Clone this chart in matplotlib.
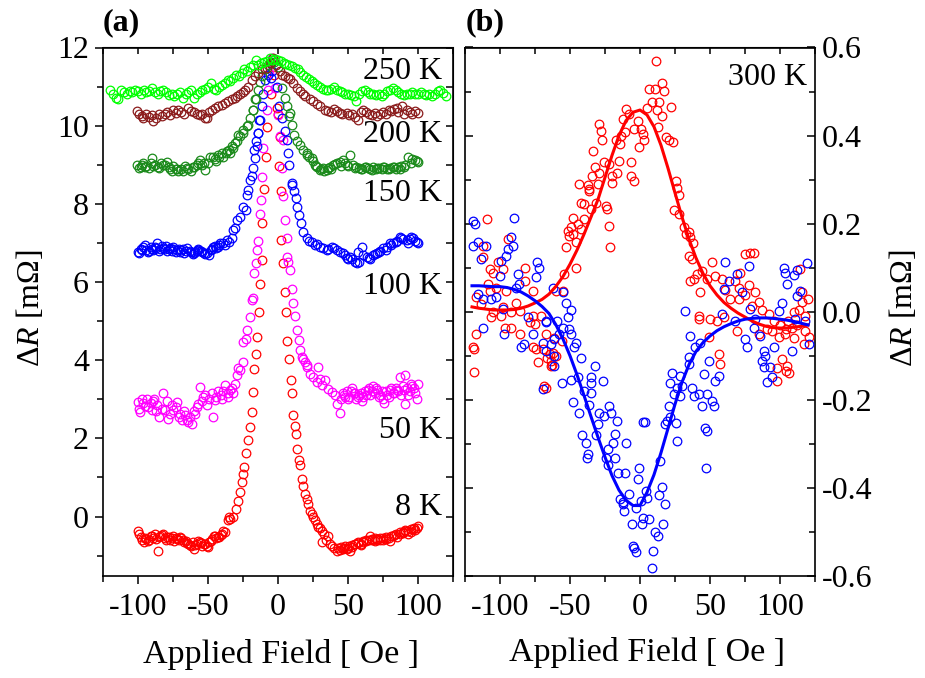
import matplotlib
matplotlib.use("Agg")
import matplotlib.pyplot as plt
from matplotlib.ticker import MultipleLocator, FormatStrFormatter

plt.rcParams['font.family'] = ['Liberation Serif', 'DejaVu Serif']
plt.rcParams['mathtext.fontset'] = 'custom'
plt.rcParams['mathtext.rm'] = 'Liberation Serif'
plt.rcParams['mathtext.it'] = 'Liberation Serif:italic'
plt.rcParams['axes.unicode_minus'] = False

# ---------------- panel (a): field sweeps at several temperatures ----------------
k8_field = [-100, -98, -96, -94, -92, -90, -88, -86, -84, -82,
            -80, -78, -76, -74, -72, -70, -68, -66, -64, -62,
            -60, -58, -56, -54, -52, -50, -48, -46, -44, -42,
            -40, -38, -36, -35, -34, -32, -30, -28.3, -27.1, -26,
            -25.2, -24, -22.9, -21.2, -20, -18.8, -18.1, -17.1, -15.7, -14.8,
            -13.8, -12.9, -11.7, -11.2, -9.8, -8.8, -8, -5, -3, -1,
            0, 1.4, 1, 1.9, 2.1, 3.8, 5, 5.7, 6.6, 8.1,
            9, 10, 11, 11.9, 12.9, 13.8, 14.8, 15.7, 16.9, 18.1,
            19.3, 20.5, 21.7, 23, 24, 25, 26.4, 27.5, 28.8, 30,
            31.2, 31.2, 33, 34.5, 36, 37, 38.3, 40, 41.9, 44,
            46.7, 48, 50, 51.4, 53, 55, 57, 59, 61, 63,
            65.7, 67, 69, 71, 73, 75, 77, 80, 82, 84,
            87, 89, 91, 93, 95, 96.7, 98, 100,
            -99, -97, -95, -93, -91, -89, -87, -85, -83, -81,
            -79, -77, -75, -73, -71, -69, -67, -65, -63, -61,
            -59, -57, -55, -53, -51, -49, -47, -45, -43, -41, -39,
            43, 45, 47, 49, 51, 53, 55, 57, 59, 61,
            63, 65, 67, 69, 71, 73, 75, 77, 79, 81,
            83, 85, 87, 89, 91, 93, 95, 97, 99]
k8_dr = [-0.36, -0.53, -0.66, -0.57, -0.6, -0.49, -0.44, -0.87, -0.5, -0.44,
         -0.6, -0.53, -0.55, -0.62, -0.58, -0.53, -0.6, -0.62, -0.7, -0.75,
         -0.83, -0.7, -0.66, -0.74, -0.7, -0.79, -0.62, -0.49, -0.55, -0.53,
         -0.45, -0.4, -0.1, 0.0, -0.06, -0.02, 0.2, 0.41, 0.62, 0.88,
         1.09, 1.26, 1.62, 1.97, 2.29, 2.67, 3.19, 3.77, 4.15, 4.6,
         5.24, 5.95, 6.56, 7.52, 8.38, 9.2, 9.97, 10.8, 11.3, 10.45,
         10.3, 9.7, 8.96, 8.32, 7.08, 6.48, 5.75, 5.24, 4.5, 4.04,
         3.49, 3.15, 2.59, 2.33, 2.12, 1.74, 1.44, 1.31, 0.97, 0.79,
         0.58, 0.45, 0.32, 0.15, 0.07, 0.0, -0.1, -0.2, -0.27, -0.3,
         -0.36, -0.66, -0.45, -0.6, -0.49, -0.7, -0.74, -0.8, -0.87, -0.85,
         -0.83, -0.75, -0.8, -0.87, -0.72, -0.7, -0.65, -0.7, -0.62, -0.6,
         -0.49, -0.6, -0.62, -0.58, -0.6, -0.55, -0.58, -0.62, -0.5, -0.45,
         -0.4, -0.42, -0.35, -0.45, -0.33, -0.32, -0.35, -0.23,
         -0.45, -0.6, -0.55, -0.62, -0.5, -0.55, -0.58, -0.52, -0.47, -0.56,
         -0.52, -0.6, -0.5, -0.56, -0.6, -0.55, -0.65, -0.68, -0.72, -0.66,
         -0.72, -0.62, -0.68, -0.7, -0.75, -0.66, -0.58, -0.5, -0.52, -0.48, -0.38,
         -0.8, -0.78, -0.8, -0.82, -0.75, -0.78, -0.7, -0.68, -0.72, -0.66,
         -0.62, -0.6, -0.58, -0.55, -0.6, -0.56, -0.6, -0.52, -0.55, -0.5,
         -0.48, -0.52, -0.45, -0.4, -0.38, -0.36, -0.4, -0.3, -0.28]

k50_field = [-100.2, -98.6, -96.2, -93.8, -92.6, -90.2, -88.3, -86.7, -84.8, -81.9,
             -80.7, -78.3, -76, -74.8, -72.4, -70, -68.8, -66.4, -64, -61.7,
             -59.3, -56.9, -55.7, -53.3, -50.9, -47.4, -46.2, -45, -42.6, -40.2,
             -37.9, -35.5, -31.9,
             -30.7, -29.5, -28.3, -27.1, -25.2, -24.8, -22.9, -21.9, -20, -18.8,
             -17.6, -17.1, -15.9, -15.2, -14, -12.9, -12.1, -11.4, -10.5, -8.1,
             -6.9, -6.4, -5.2, -4.5,
             -3.3, -2.1, 0.2, 1.4, 3.3, 2.6, 3.8, 5, 6.2, 6.6,
             7.4, 8.6, 9.8, 11, 12.1, 13.8, 14.8, 15.7, 16.9, 18.1,
             19.3, 20.5, 21, 22.9, 25.2, 27.6, 28.8, 30, 31.2, 33.6,
             36, 38.3, 40.7, 41.9, 44.3,
             46.7, 48, 50, 52, 54, 56, 58, 60, 62, 64,
             66, 68, 70, 72, 74, 76, 78, 80, 82, 84,
             86, 87.1, 88, 90, 90.7, 90.7, 92, 94, 96, 98,
             99, 100,
             -99, -97, -95, -91, -89, -87, -83, -79, -77, -73,
             -71, -67, -65, -63, -60, -58, -54, -52, -49, -44,
             -41, -39, -36, -34, -33,
             45, 47, 49, 51, 53, 55, 57, 59, 61, 63,
             65, 67, 69, 71, 73, 75, 77, 79, 81, 83,
             85, 89, 93, 95, 97]
k50_dr = [2.93, 2.67, 2.9, 3.02, 2.8, 2.72, 3.02, 2.85, 2.55, 3.15,
          2.72, 2.5, 2.85, 2.72, 2.93, 2.63, 2.46, 2.6, 2.42, 2.38,
          2.63, 2.89, 3.32, 3.06, 2.85, 3.15, 2.55, 2.98, 3.2, 3.0,
          3.36, 3.15, 3.15,
          3.4, 3.62, 3.79, 3.75, 3.96, 4.47, 4.55, 4.77, 5.11, 5.54,
          5.58, 6.22, 6.48, 6.82, 7.05, 7.74, 8.1, 8.68, 9.43, 10.39,
          10.92, 11.35, 11.62, 11.73,
          11.69, 10.97, 10.28, 9.73, 9.64, 8.92, 8.19, 7.59, 7.12, 6.65,
          6.52, 6.31, 5.81, 5.47, 5.13, 4.77, 4.53, 4.27, 4.08, 4.04,
          3.96, 3.87, 3.83, 3.66, 3.57, 3.44, 3.83, 3.53, 3.36, 3.49,
          3.27, 3.19, 3.1, 2.89, 2.65,
          3.15, 3.05, 3.02, 3.2, 3.15, 3.0, 3.1, 2.95, 3.2, 3.25,
          3.1, 3.35, 3.3, 3.05, 3.2, 2.9, 3.1, 3.25, 3.15, 3.3,
          3.2, 3.57, 3.1, 3.25, 3.62, 2.89, 3.3, 3.2, 3.35, 3.15,
          3.02, 3.4,
          2.75, 3.0, 2.82, 2.9, 2.95, 2.7, 2.75, 2.95, 2.62, 2.8,
          2.55, 2.7, 2.48, 2.55, 2.7, 2.8, 2.95, 3.1, 3.0, 3.05,
          3.1, 3.2, 3.05, 3.25, 3.3,
          3.0, 3.1, 3.2, 3.05, 3.3, 3.15, 3.05, 3.15, 3.05, 3.1,
          3.3, 3.2, 3.15, 3.25, 3.1, 3.0, 3.2, 3.05, 3.3, 3.15,
          3.25, 3.35, 3.1, 3.4, 3.3]

k100_field = [-100.2, -98, -96.2, -94, -92, -90, -88, -86.7, -84, -82,
              -80, -78, -76, -74.8, -72, -70, -68, -66, -65.2, -62,
              -60, -58, -56.9, -54, -52, -50.9, -48, -46.2, -44, -42,
              -41.4, -39, -38, -36.6, -35,
              -33.1, -31.9, -30.7, -29.5, -27.1, -24.8, -22.9, -22.4, -21.2, -20,
              -18.8, -18.1, -16.9, -16.4, -15.7, -15.2, -14.5, -14, -13.4, -12.9,
              -11.7, -10.5, -9.3, -7, -5.2,
              -4, -1, 1, 2.6, 5, 6.2, 6.9, 8.1, 9.8, 10,
              11.4, 12.6, 13.8, 15, 16.2, 18.1, 20.5, 24, 26.4, 30,
              34.8, 38.3, 41.9, 46.7, 49, 51.4, 55, 56.2, 57.4, 59.8,
              63.3, 66, 68, 70.5, 73, 75.2, 78, 80, 82, 85,
              87.1, 89, 91.9, 94, 96.7, 98, 100.2,
              -99, -97, -95, -93, -91, -89, -87, -85, -83, -81,
              -79, -77, -75, -73, -71, -69, -67, -63, -61, -59,
              -57, -55, -53, -49, -47, -45, -43,
              22, 28, 32, 36, 40, 44, 48, 50, 53, 58,
              61, 65, 69, 72, 77, 81, 84, 88, 93, 95, 99]
k100_dr = [6.78, 6.85, 6.9, 6.82, 6.8, 6.85, 6.9, 6.99, 6.85, 6.88,
           6.92, 6.85, 6.8, 6.9, 6.82, 6.78, 6.85, 6.8, 6.86, 6.78,
           6.75, 6.8, 6.82, 6.78, 6.72, 6.74, 6.82, 6.9, 6.86, 6.95,
           6.99, 7.0, 6.95, 7.08, 7.03,
           7.12, 7.33, 7.38, 7.59, 7.67, 7.93, 7.85, 8.23, 8.35, 8.6,
           8.7, 8.92, 9.38, 9.17, 9.6, 9.47, 9.81, 9.81, 10.15, 10.15,
           10.5, 10.8, 11.18, 11.3, 11.22,
           11.4, 11.0, 10.5, 10.2, 9.86, 9.64, 9.3, 9.0, 8.49, 8.53,
           8.32, 8.15, 7.93, 7.72, 7.5, 7.29, 7.12, 7.03, 6.95, 6.9,
           6.82, 6.9, 6.82, 6.74, 6.61, 6.65, 6.52, 6.48, 6.78, 6.9,
           6.65, 6.6, 6.7, 6.74, 6.8, 6.86, 6.9, 6.99, 7.0, 7.05,
           7.16, 7.1, 7.08, 7.1, 7.12, 7.05, 6.99,
           6.75, 6.82, 6.95, 6.78, 6.9, 6.82, 6.88, 6.8, 6.92, 6.85,
           6.8, 6.88, 6.85, 6.78, 6.85, 6.82, 6.75, 6.8, 6.72, 6.78,
           6.85, 6.8, 6.75, 6.7, 6.85, 6.92, 6.9,
           7.05, 6.98, 6.88, 6.85, 6.88, 6.78, 6.7, 6.6, 6.58, 6.5,
           6.7, 6.62, 6.72, 6.78, 6.82, 6.95, 7.02, 7.12, 7.0, 7.15, 7.02]

k150_field = [-100.9, -98, -96.2, -94, -92, -90.2, -88, -86, -83.8, -82,
              -79.5, -77, -74.8, -73, -71.2, -69, -66.4, -64, -62, -60,
              -58, -55.7, -54, -52.1, -50, -48.6, -46.2, -44, -42, -40.2,
              -39, -36.6, -34, -33.1, -31.9, -30.7, -28.3, -27.1, -24.8, -22.4,
              -21.2, -20, -18.1, -17.6, -16.4, -15.7, -14, -12.9, -11.7, -9.3,
              -7, -5, -3,
              0, 2.6, 5, 6.7, 8.1, 8.6, 9.8, 11.4, 13.3, 15.7,
              18.1, 20.5, 22, 24, 26.4, 28, 30, 32.4, 34.8, 36,
              38, 39.5, 42, 44.3, 46.7, 49, 51.4, 53.8, 56, 58,
              60, 62, 64, 66, 68, 70, 72, 74, 76, 78,
              80, 82, 84, 86, 88, 90, 93.1, 95, 97.9, 100.2,
              -99, -97, -95, -91, -89, -85, -81, -78, -76, -72,
              -68, -65, -61, -57, -53, -45, -43, -37, -35, -29, -25,
              21, 25, 27, 31, 33, 37, 41, 45, 48, 50,
              55, 59, 63, 67, 71, 75, 79, 83, 87, 91, 96, 99]
k150_dr = [9.0, 8.95, 9.05, 8.98, 8.92, 9.17, 9.0, 8.95, 9.05, 9.0,
           9.08, 8.9, 8.96, 8.88, 8.83, 8.9, 8.96, 8.9, 8.85, 8.95,
           9.0, 9.13, 9.0, 8.87, 9.05, 9.21, 9.21, 9.1, 9.2, 9.3,
           9.21, 9.34, 9.3, 9.47, 9.43, 9.56, 9.77, 9.73, 9.81, 9.98,
           10.03, 10.2, 10.41, 10.41, 10.67, 10.67, 10.9, 11.12, 11.28, 11.44,
           11.55, 11.6, 11.62,
           11.5, 10.97, 10.71, 10.5, 10.24, 10.33, 10.03, 9.77, 9.6, 9.5,
           9.37, 9.3, 9.2, 9.17, 9.0, 8.95, 8.87, 8.92, 8.87, 8.92,
           8.9, 9.0, 9.05, 9.08, 9.13, 9.0, 9.26, 9.0, 8.95, 8.92,
           8.9, 8.95, 8.92, 8.9, 8.95, 8.88, 8.92, 8.9, 8.95, 8.9,
           8.93, 8.95, 8.9, 8.95, 8.98, 8.95, 9.21, 9.05, 9.13, 9.08,
           8.92, 9.0, 8.95, 9.05, 8.98, 8.92, 9.0, 8.95, 8.85, 8.9,
           8.85, 8.92, 8.95, 9.05, 9.05, 9.15, 9.25, 9.3, 9.38, 9.62, 9.9,
           9.25, 9.1, 8.98, 8.9, 8.85, 8.95, 9.02, 8.98, 9.05, 8.98,
           8.92, 8.88, 8.95, 8.87, 8.92, 8.95, 8.9, 8.95, 8.9, 9.0, 9.15, 9.1]

k200_field = [-100.9, -99, -97, -96.2, -94, -92, -90, -89, -87, -85,
              -83, -81, -79, -77, -75, -73, -71.2, -69, -67, -64,
              -62, -60, -58, -56, -54, -52, -50.9, -49, -47, -45,
              -43, -40.2, -38, -36, -33.1, -31, -29, -27.1, -25, -23.6,
              -21.5, -18.8, -16.5, -14, -11.7, -8.1, -5.5, -3.8, -1.5, 1.4,
              3, 5, 7, 8.6, 11, 13.3, 15.7, 17.5, 19.3, 22.9,
              25, 27.5, 30, 33.6, 36, 38, 40, 42, 44, 46,
              49, 51, 53, 55, 57.4, 59, 61, 63, 65, 67,
              69, 71, 73, 75, 77, 79, 81, 83, 84.8, 86,
              88.4, 90, 92, 94, 96, 98, 100.2]
k200_dr = [10.37, 10.3, 10.25, 10.2, 10.3, 10.22, 10.28, 10.11, 10.2, 10.3,
           10.25, 10.3, 10.35, 10.28, 10.4, 10.32, 10.41, 10.35, 10.3, 10.45,
           10.38, 10.35, 10.3, 10.28, 10.3, 10.2, 10.2, 10.35, 10.4, 10.45,
           10.5, 10.54, 10.58, 10.62, 10.67, 10.72, 10.75, 10.8, 10.85, 10.92,
           11.0, 11.18, 11.28, 11.35, 11.44, 11.48, 11.6, 11.73, 11.55, 11.39,
           11.3, 11.26, 11.22, 11.2, 11.1, 10.97, 10.88, 10.82, 10.75, 10.67,
           10.62, 10.55, 10.5, 10.41, 10.38, 10.35, 10.42, 10.38, 10.32, 10.3,
           10.33, 10.28, 10.3, 10.22, 10.15, 10.35, 10.41, 10.35, 10.3, 10.28,
           10.32, 10.25, 10.3, 10.35, 10.3, 10.4, 10.38, 10.42, 10.45, 10.35,
           10.5, 10.3, 10.4, 10.35, 10.3, 10.38, 10.33]

k250_field = [-120, -118, -116, -114, -112, -110, -108, -106, -104, -102,
              -100, -98, -96, -94, -92, -90, -88, -86, -84, -82,
              -80, -78, -76, -74, -72, -70, -68, -66, -64, -62,
              -60, -58, -56, -54, -52, -50, -48, -46, -44, -42,
              -40, -38, -36, -34, -32, -30, -28, -26, -24, -22,
              -20, -18, -16, -14, -12, -10, -8, -6, -4, -2,
              0, 2, 4, 6, 8, 10, 12, 14, 16, 18,
              20, 22, 24, 26, 28, 30, 32, 34, 36, 38,
              40, 42, 44, 46, 48, 50, 52, 54, 56, 58,
              60, 62, 64, 66, 68, 70, 72, 74, 76, 78,
              80, 82, 84, 86, 88, 90, 92, 94, 96, 98,
              100, 102, 104, 106, 108, 110, 112, 114, 116, 118,
              120]
k250_dr = [10.92, 10.8, 10.72, 10.67, 10.92, 10.85, 10.8, 10.88, 10.85, 10.9,
           10.88, 10.82, 10.9, 10.85, 10.88, 10.97, 10.85, 10.8, 10.88, 10.92,
           10.85, 10.78, 10.82, 10.75, 10.8, 10.85, 10.72, 10.8, 10.85, 10.92,
           10.72, 10.8, 10.85, 10.9, 10.95, 11.0, 11.09, 10.95, 10.9, 11.0,
           11.05, 11.1, 11.18, 11.15, 11.22, 11.3, 11.28, 11.35, 11.44, 11.4,
           11.5, 11.56, 11.69, 11.55, 11.6, 11.62, 11.65, 11.73, 11.68, 11.7,
           11.69, 11.65, 11.6, 11.58, 11.56, 11.52, 11.48, 11.44, 11.38, 11.3,
           11.25, 11.2, 11.15, 11.1, 11.05, 11.0, 10.95, 10.92, 10.9, 10.95,
           11.0, 10.92, 10.88, 10.85, 10.8, 10.82, 10.78, 10.75, 10.62, 10.8,
           10.88, 10.92, 10.85, 10.82, 10.8, 10.78, 10.82, 10.75, 10.8, 10.88,
           10.92, 10.97, 10.9, 10.85, 10.8, 10.78, 10.82, 10.8, 10.85, 10.82,
           10.8, 10.85, 10.82, 10.78, 10.8, 10.75, 10.82, 10.88, 10.92, 10.84,
           10.75]

# ---------------- panel (b): 300 K, two configurations with fits ----------------
red300_field = [-43.3, -37.4, -36.7, -30.3, -19.9, -42.1, -39.7, -35, -31.4, -24.3,
                -48.1, -44.5, -42.1, -48.1, -50.5, -45.7, -53.2, -22.3, -21.4, -45.7,
                -54, -55.2, -59.9, -109.5, -112.1, -112.1, -101.4, -107.4, -105, -97.9,
                -94.3, -82.4, -108.6, -116.9, -113.3, -107.4, -102.6, -95.5, -88.3, -86,
                -82.4, -76.4, -97.9, -92, -105, -106.2, -99.1, -76.4, -70.5, -78.8,
                -75.2, -96.7, -92, -86, -116.9, -67.4, -61.4, -76.4, -74, -69.3,
                -64.5, -62.1, -72.9, -63.3, -119.5, -118.3, -118.3, -63.3,
                -66.2, -62.6, -68.5, -67.4, -60.2, -55.4,
                11.2, 15.5, 6.6, 10.7, 17.2, 8.4, 13.6, 5.3, 12.4, 16,
                21.9, -9.9, -7.6, -1.6, -4, 0.8, 1.9, 3.1, -0.5, -10.9,
                -13.3, -16.9, -14.5, -12.1, 13.1, 18.6, 21, 23.8, -29.2, -28,
                -26.8, -33.3, -25.6, -32.5, -34.4, -29.2, -22.1, -19.7, -16.2, -14.9,
                -6.6, -6.6, -4.3, -36.3, -23.3, -40.3, -49.3, -51.7, 25.4, 26.6,
                27.8, 24.3, 27.8, 31.4, 32.6, 35,
                34.8, 37.1, 44.3, 51.4, 40.7, 36, 38.4, 48.1, 43.1, 53.8,
                58.6, 68.1, 71.7, 75.3, 78.8, 81.2, 77.6, 61, 70.5, 64.5,
                70.5, 75.3, 82.4, 80, 84.8, 87.1, 91.9, 41.9, 41.9, 50.2,
                55, 59.8, 69.3, 84.8, 90.7, 94.3, 99.1, 103.8, 108.6, 113.4,
                115.7, 114.5, 118.1, 120.5, 116.9, 56.2, 57.4, 49, 101.4, 105,
                97.9, 104.3, 106.6, 97.9,
                96, 100, 104, 110, 112, 106, 118, 120, 116, 110, 35.7, 38]
red300_dr = [0.29, 0.288, 0.279, 0.29, 0.292, 0.246, 0.245, 0.233, 0.246, 0.241,
             0.214, 0.199, 0.188, 0.177, 0.173, 0.158, 0.146, 0.195, 0.146, 0.099,
             0.086, 0.048, 0.048, 0.211, 0.15, 0.124, 0.112, 0.097, 0.089, 0.097,
             0.165, 0.099, 0.063, 0.033, 0.018, 0.048, 0.055, 0.048, 0.021, 0.002,
             0.07, 0.048, 0.01, -0.001, -0.001, -0.013, -0.009, -0.009, -0.009, -0.024,
             -0.028, -0.036, -0.036, -0.051, -0.051, -0.051, -0.059, -0.081, -0.085, -0.085,
             -0.097, -0.093, -0.115, -0.111, -0.081, -0.085, -0.136, -0.123,
             -0.104, -0.12, -0.168, -0.172, -0.1, -0.066,
             0.57, 0.52, 0.506, 0.506, 0.502, 0.476, 0.476, 0.463, 0.457, 0.445,
             0.464, 0.461, 0.45, 0.434, 0.415, 0.415, 0.404, 0.389, 0.374, 0.408,
             0.4, 0.39, 0.381, 0.438, 0.42, 0.396, 0.389, 0.385, 0.426, 0.411,
             0.389, 0.366, 0.339, 0.328, 0.309, 0.316, 0.335, 0.309, 0.316, 0.342,
             0.339, 0.309, 0.298, 0.275, 0.233, 0.211, 0.192, 0.184, 0.298, 0.282,
             0.264, 0.231, 0.222, 0.192, 0.177, 0.181,
             0.127, 0.12, 0.093, 0.112, 0.085, 0.07, 0.074, 0.074, 0.044, 0.082,
             0.074, 0.07, 0.089, 0.131, 0.134, 0.134, 0.06, 0.049, 0.053, 0.03,
             0.03, 0.037, 0.044, 0.014, 0.022, 0.003, -0.005, -0.017, -0.009, -0.017,
             -0.021, -0.013, -0.043, -0.051, -0.039, -0.043, -0.058, -0.051, -0.036, 0.003,
             0.022, 0.097, -0.043, -0.058, -0.074, -0.096, -0.119, -0.058, -0.108, -0.123,
             -0.127, -0.134, -0.138, -0.157,
             -0.02, -0.03, -0.04, -0.06, -0.03, -0.02, -0.01, 0.03, 0.045, 0.0, 0.17, 0.155]

blue300_field = [-119.5, -117.6, -89.7, -115.9, -119.5, -109.9, -113.3, -92, -90.9, -94.3,
                 -95.5, -99.1, -100.2, -73.3, -72.1, -74.5, -87.5, -115.9, -112.1, -106.2,
                 -102.6, -97.9, -62.4, -55.2, -52.8, -49.3, -88.5, -80.2, -112.1, -97,
                 -76.4, -66.9, -55.2, -51.6, -61.4, -49.3, -85.2, -82.8, -63.8, -66.9,
                 -69.3, -61.4, -45.5, -46.9, -42.1, -61.4, -31.9, -34.8,
                 -86.4, -67.3, -59, -50.7, -57.8,
                 -69.5, -55.9, -49.2, -44.5, -34.9, -26.6, -39.7, -35, -48.1, -36.1,
                 -43.3, -29, -21.9, -20.7, -25.5, -16.6, -30.2, -41.6, -31.4, -38.5,
                 -17.8, -9.9, -19.5, -23.1, -36.9, -38.1, -24.3, -17.8, -22.6, -15.4,
                 -10.4, -0.4, -1.6, -14.2, -12.4, -11.9, -11.2, -7.6, -6, -4.8,
                 -4.3, -3.1, 1.9, -2.9,
                 0.5, 4.6, 5.3, 13.6, 15.5, 17.7, 1.2, 2.1, 6.4, 16.5,
                 10.7, 12.6, 9.3, 8.4, 47.4, 14.1, 26.7, 48.1, 25.5,
                 32.4, 60.5, 77.6, 69.3, 63.4, 59.8, 72.9, 58.6, 68.1, 78.8,
                 81.2, 86, 82.4, 99.1, 103.8, 102.6, 105, 109.8, 112.1, 119.3,
                 114.5, 112.1, 101.4, 111, 118.1, 120.5, 75.3, 76.5, 88.4, 95.5,
                 108.6, 89.5, 87.1, 88.4, 93.1, 94.3, 90.7, 36, 43.1, 39.6,
                 34.8, 34.8, 49.1, 45.5, 56.2, 53.8, 22.9, 28.8, 21.7, 26.5,
                 30, 37.2, 24.1, 28.8, 38.4, 42, 47.9, 51.4, 44.3, 52.6,
                 20.5, 3.8, 19.3, 21.7, 18.1, 46.7]
blue300_dr = [0.207, 0.199, 0.214, 0.158, 0.15, 0.15, 0.12, 0.169, 0.15, 0.142,
              0.127, 0.116, 0.082, 0.112, 0.099, 0.078, 0.086, 0.04, 0.029, 0.029,
              0.033, 0.006, 0.055, 0.044, 0.021, 0.003, 0.055, -0.013, -0.036, -0.051,
              -0.051, -0.024, -0.036, -0.013, -0.062, -0.051, -0.081, -0.074, -0.074, -0.089,
              -0.07, -0.1, -0.07, -0.081, -0.104, -0.123, -0.123, -0.149,
              0.063, -0.021, -0.021, -0.039, -0.051,
              -0.176, -0.161, -0.155, -0.148, -0.161, -0.158, -0.181, -0.185, -0.204, -0.212,
              -0.23, -0.23, -0.215, -0.23, -0.236, -0.249, -0.254, -0.28, -0.28, -0.297,
              -0.277, -0.297, -0.297, -0.312, -0.322, -0.333, -0.332, -0.331, -0.348, -0.365,
              -0.367, -0.355, -0.38, -0.426, -0.431, -0.437, -0.452, -0.413, -0.481, -0.532,
              -0.537, -0.545, -0.251, -0.446,
              -0.43, -0.407, -0.422, -0.417, -0.398, -0.436, -0.482, -0.468, -0.47, -0.482,
              -0.5, -0.509, -0.543, -0.582, -0.355, -0.339, -0.293, -0.27, -0.252,
              0.002, 0.114, 0.105, 0.086, 0.07, 0.052, 0.044, -0.004, -0.02, 0.006,
              -0.036, -0.055, -0.017, 0.002, 0.089, 0.1, 0.063, 0.084, 0.095, 0.11,
              0.048, 0.036, 0.021, -0.017, -0.021, -0.074, -0.062, -0.081, -0.088, -0.081,
              -0.088, -0.1, -0.111, -0.126, -0.126, -0.149, -0.159, -0.055, -0.07, -0.081,
              -0.103, -0.118, -0.111, -0.141, -0.145, -0.157, -0.138, -0.145, -0.161, -0.172,
              -0.168, -0.172, -0.187, -0.191, -0.191, -0.187, -0.187, -0.202, -0.214, -0.214,
              -0.214, -0.251, -0.248, -0.24, -0.255, -0.263]

fit_field = [-120, -115, -110, -105, -100, -95, -90, -85, -80, -75,
             -70, -65, -60, -55, -50, -45, -40, -35, -30, -25,
             -20, -15, -10, -5, 0, 5, 10, 15, 20, 25,
             30, 35, 40, 45, 50, 55, 60, 65, 70, 75,
             80, 85, 90, 95, 100, 105, 110, 115, 120]
fit_red = [0.011, 0.008, 0.006, 0.004, 0.004, 0.004, 0.005, 0.008, 0.013, 0.02,
           0.028, 0.04, 0.058, 0.08, 0.108, 0.14, 0.176, 0.215, 0.255, 0.305,
           0.355, 0.4, 0.434, 0.453, 0.458, 0.447, 0.42, 0.378, 0.326, 0.27,
           0.215, 0.165, 0.122, 0.087, 0.059, 0.038, 0.021, 0.008, -0.003, -0.012,
           -0.021, -0.028, -0.033, -0.036, -0.037, -0.037, -0.035, -0.033, -0.03]
fit_blue = [0.059, 0.059, 0.058, 0.057, 0.057, 0.055, 0.051, 0.045, 0.036, 0.025,
            0.012, -0.004, -0.03, -0.062, -0.1, -0.143, -0.19, -0.238, -0.285, -0.33,
            -0.372, -0.405, -0.428, -0.44, -0.44, -0.41, -0.37, -0.32, -0.265, -0.21,
            -0.16, -0.12, -0.09, -0.07, -0.055, -0.043, -0.034, -0.027, -0.021, -0.017,
            -0.015, -0.014, -0.014, -0.015, -0.017, -0.019, -0.022, -0.026, -0.03]

curves_a = [
    (k8_field, k8_dr, '#ff0000'),
    (k50_field, k50_dr, '#ff00ff'),
    (k100_field, k100_dr, '#0000ff'),
    (k150_field, k150_dr, '#1a8a1a'),
    (k200_field, k200_dr, '#8b1c1c'),
    (k250_field, k250_dr, '#00ff00'),
]
labels_a = ['8 K', '50 K', '100 K', '150 K', '200 K', '250 K']
label_y = [0.24, 2.2, 5.88, 8.27, 9.77, 11.39]

fs = 23
fig = plt.figure(figsize=(9.25, 6.78), dpi=100)
ax1 = fig.add_axes([103 / 925, 1 - 576 / 678, 350 / 925, 528.5 / 678])
ax2 = fig.add_axes([465 / 925, 1 - 576 / 678, 350 / 925, 528.5 / 678])

for x, y, c in curves_a:
    ax1.plot(x, y, 'o', mfc='none', mec=c, ms=6.2, mew=0.9, zorder=3)
for lab, yy in zip(labels_a, label_y):
    ax1.text(117, yy, lab, ha='right', va='center', fontsize=fs)

ax2.plot(red300_field, red300_dr, 'o', mfc='none', mec='#ff0000', ms=6.2, mew=0.9, zorder=3)
ax2.plot(blue300_field, blue300_dr, 'o', mfc='none', mec='#0000ff', ms=6.2, mew=0.9, zorder=3)
ax2.plot(fit_field, fit_red, '-', color='#ff0000', lw=2.2, zorder=4)
ax2.plot(fit_field, fit_blue, '-', color='#0000ff', lw=2.2, zorder=4)
ax2.text(119.5, 0.533, '300 K', ha='right', va='center', fontsize=fs)

for ax in (ax1, ax2):
    ax.set_xlim(-125, 125)
    ax.xaxis.set_major_locator(MultipleLocator(50))
    ax.xaxis.set_minor_locator(MultipleLocator(25))
    for s in ax.spines.values():
        s.set_linewidth(1.2)
    ax.tick_params(axis='x', which='both', direction='out', top=False, labelsize=fs, pad=6)
    ax.tick_params(axis='x', which='major', length=6, width=1.1)
    ax.tick_params(axis='x', which='minor', length=4, width=1.1)
    top = ax.secondary_xaxis('top')
    top.xaxis.set_major_locator(MultipleLocator(25))
    top.tick_params(direction='in', length=5, width=1.1, labeltop=False)

ax1.set_ylim(-1.52, 12)
ax1.yaxis.set_major_locator(MultipleLocator(2))
ax1.yaxis.set_minor_locator(MultipleLocator(1))
ax1.tick_params(axis='y', which='both', direction='out', right=False, labelsize=fs, pad=4)
ax1.tick_params(axis='y', which='major', length=6, width=1.1)
ax1.tick_params(axis='y', which='minor', length=4, width=1.1)
rgt = ax1.secondary_yaxis('right')
rgt.yaxis.set_major_locator(MultipleLocator(1))
rgt.tick_params(direction='in', length=5, width=1.1, labelright=False)

ax2.set_ylim(-0.6, 0.6)
ax2.yaxis.set_major_locator(MultipleLocator(0.2))
ax2.yaxis.set_minor_locator(MultipleLocator(0.1))
ax2.yaxis.set_major_formatter(FormatStrFormatter('%.1f'))
ax2.tick_params(axis='y', which='both', direction='in', left=True, right=True,
                labelleft=False, labelright=True, labelsize=fs, pad=5)
ax2.tick_params(axis='y', which='major', length=6, width=1.1)
ax2.tick_params(axis='y', which='minor', length=4, width=1.1)

fig.text(31 / 925, 1 - 308 / 678, r'Δ$R$ [mΩ]', rotation=90, ha='center', va='center', fontsize=fs)
fig.text(903 / 925, 1 - 308 / 678, r'Δ$R$ [mΩ]', rotation=90, ha='center', va='center', fontsize=fs)
fig.text(281 / 925, 1 - 655 / 678, 'Applied Field [ Oe ]', ha='center', va='center', fontsize=24.5)
fig.text(647 / 925, 1 - 652 / 678, 'Applied Field [ Oe ]', ha='center', va='center', fontsize=24.5)
fig.text(103 / 925, 1 - 23 / 678, '(a)', ha='left', va='center', fontsize=fs, fontweight='bold')
fig.text(466 / 925, 1 - 23 / 678, '(b)', ha='left', va='center', fontsize=fs, fontweight='bold')

fig.savefig('out.png', dpi=100)
